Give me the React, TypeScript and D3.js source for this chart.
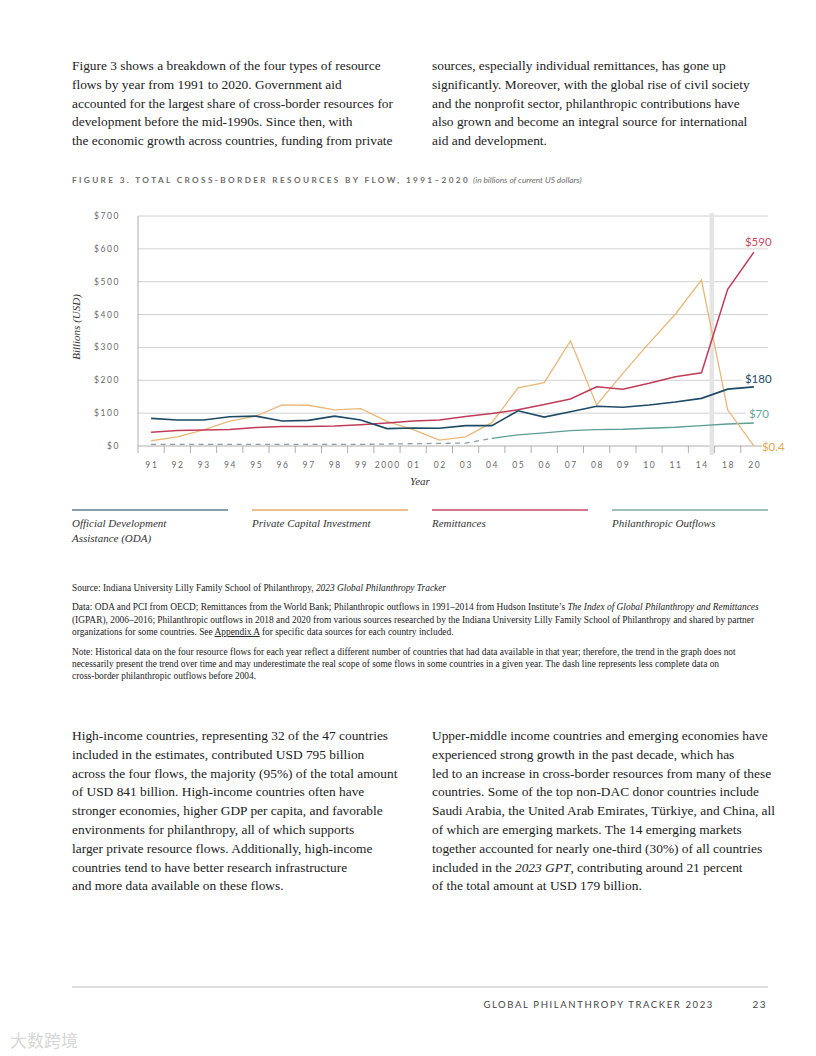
import React from 'react'
import * as d3 from 'd3'

// chart data (billions of current US dollars)
const years = ['91', '92', '93', '94', '95', '96', '97', '98', '99', '2000', '01', '02', '03', '04', '05', '06', '07', '08', '09', '10', '11', '14', '18', '20']
const oda = [84, 79, 79, 89, 91, 76, 78, 91, 79, 53, 55, 54, 62, 62, 107, 88, 104, 121, 118, 125, 134, 145, 173, 180]
const privateCapital = [16, 28, 49, 76, 91, 125, 124, 110, 114, 75, 50, 18, 28, 71, 177, 193, 320, 125, 221, 313, 401, 505, 110, 0.4]
const remittances = [42, 47, 49, 50, 56, 59, 59, 61, 65, 70, 76, 79, 90, 99, 110, 126, 143, 180, 173, 191, 211, 223, 477, 590]
const philanthropic = [5, 5, 5, 5, 5, 5, 5, 5, 5, 6, 7, 8, 9, 23, 34, 40, 47, 50, 51, 54, 57, 62, 67, 70]
const dashedUntil = '04'
const yTicks = [0, 100, 200, 300, 400, 500, 600, 700]

const legendItems = [
  { lines: ['Official Development', 'Assistance (ODA)'], color: '#5b7f93' },
  { lines: ['Private Capital Investment'], color: '#e3ad5e' },
  { lines: ['Remittances'], color: '#c64a6a' },
  { lines: ['Philanthropic Outflows'], color: '#80aaa3' },
]

const topLeft = [
  'Figure 3 shows a breakdown of the four types of resource',
  'flows by year from 1991 to 2020. Government aid',
  'accounted for the largest share of cross-border resources for',
  'development before the mid-1990s. Since then, with',
  'the economic growth across countries, funding from private',
]
const topRight = [
  'sources, especially individual remittances, has gone up',
  'significantly. Moreover, with the global rise of civil society',
  'and the nonprofit sector, philanthropic contributions have',
  'also grown and become an integral source for international',
  'aid and development.',
]
const bottomLeft = [
  'High-income countries, representing 32 of the 47 countries',
  'included in the estimates, contributed USD 795 billion',
  'across the four flows, the majority (95%) of the total amount',
  'of USD 841 billion. High-income countries often have',
  'stronger economies, higher GDP per capita, and favorable',
  'environments for philanthropy, all of which supports',
  'larger private resource flows. Additionally, high-income',
  'countries tend to have better research infrastructure',
  'and more data available on these flows.',
]
const bottomRight: string[][] = [
  ['Upper-middle income countries and emerging economies have'],
  ['experienced strong growth in the past decade, which has'],
  ['led to an increase in cross-border resources from many of these'],
  ['countries. Some of the top non-DAC donor countries include'],
  ['Saudi Arabia, the United Arab Emirates, Türkiye, and China, all'],
  ['of which are emerging markets. The 14 emerging markets'],
  ['together accounted for nearly one-third (30%) of all countries'],
  ['included in the ', '2023 GPT', ', contributing around 21 percent'],
  ['of the total amount at USD 179 billion.'],
]

const serif = '"Liberation Serif", "Times New Roman", serif'
const sans = 'Lato, "Liberation Sans", Arial, sans-serif'

const COLORS = {
  oda: '#1e4a66',
  pci: '#e8b879',
  remit: '#c23c5a',
  phil: '#5e9f94',
  dash: '#8f9ca3',
  grid: '#c4c4c4',
  tick: '#6b6b6b',
}

function Chart() {
  const x = d3.scaleBand<string>().domain(years).range([138, 767]).padding(0)
  const y = d3.scaleLinear().domain([0, 700]).range([446, 216])
  const cx = (i: number) => (x(years[i]) as number) + x.bandwidth() / 2

  const line = d3
    .line<number>()
    .x((_, i) => cx(i))
    .y((d) => y(d))

  const cut = years.indexOf(dashedUntil)
  const philDash = d3
    .line<number>()
    .x((_, i) => cx(i))
    .y((d) => y(d))(philanthropic.slice(0, cut + 1))
  const philSolid = d3
    .line<number>()
    .x((_, i) => cx(i + cut))
    .y((d) => y(d))(philanthropic.slice(cut))

  const last = years.length - 1
  const xEnd = cx(last)
  const gridEnd = 768
  const bandX = (x(years[last - 1]) as number) - 5

  const endLabels = [
    { text: '$590', v: remittances[last], dx: -9, dy: -10, color: '#c64a62', mask: true },
    { text: '$180', v: oda[last], dx: -9, dy: -8, color: '#1e4a66', mask: true },
    { text: '$70', v: philanthropic[last], dx: -5, dy: -9, color: '#6aa79c', mask: true },
    { text: '$0.4', v: privateCapital[last], dx: 8, dy: 1, color: '#e3a94f', mask: false },
  ]

  return (
    <g>
      {/* grid */}
      {yTicks.map((t) => (
        <line
          key={t}
          x1={138}
          x2={t === 0 ? 762 : gridEnd}
          y1={y(t)}
          y2={y(t)}
          stroke={t === 0 ? '#9a9a9a' : COLORS.grid}
          strokeWidth={0.8}
        />
      ))}
      {/* masks behind end labels */}
      {endLabels
        .filter((l) => l.mask)
        .map((l) => (
          <rect key={l.text} x={xEnd + l.dx - 3} y={y(l.v) + l.dy - 8} width={40} height={14} fill="#fff" />
        ))}
      {/* y axis */}
      <line x1={138} x2={138} y1={216} y2={453} stroke="#9a9a9a" strokeWidth={0.8} />
      {yTicks.map((t) => (
        <text
          key={t}
          x={120}
          y={y(t)}
          dy="0.35em"
          textAnchor="end"
          fontFamily={sans}
          fontSize={8.5}
          letterSpacing={1.6}
          fill={COLORS.tick}
        >
          {`$${t}`}
        </text>
      ))}
      <text
        transform="translate(80,327) rotate(-90)"
        textAnchor="middle"
        fontFamily={serif}
        fontStyle="italic"
        fontSize={11}
        fill="#333"
      >
        Billions (USD)
      </text>
      {/* x axis */}
      {years.slice(1).map((yr) => (
        <line key={yr} x1={x(yr) as number} x2={x(yr) as number} y1={446} y2={453} stroke="#9a9a9a" strokeWidth={0.8} />
      ))}
      {years.map((yr, i) => (
        <text
          key={yr}
          x={cx(i) + 0.8}
          y={468}
          textAnchor="middle"
          fontFamily={sans}
          fontSize={8.5}
          letterSpacing={1.6}
          fill={COLORS.tick}
        >
          {yr}
        </text>
      ))}
      <text x={420} y={485} textAnchor="middle" fontFamily={serif} fontStyle="italic" fontSize={11} fill="#333">
        Year
      </text>
      {/* break between 2014 and 2018 */}
      <rect x={bandX} y={213} width={4.5} height={242} fill="#e4e4e4" />
      {/* series */}
      <path d={philDash ?? ''} fill="none" stroke={COLORS.dash} strokeWidth={1.3} strokeDasharray="5,4.5" />
      <path d={philSolid ?? ''} fill="none" stroke={COLORS.phil} strokeWidth={1.3} />
      <path d={line(privateCapital) ?? ''} fill="none" stroke={COLORS.pci} strokeWidth={1.3} />
      <path d={line(remittances) ?? ''} fill="none" stroke={COLORS.remit} strokeWidth={1.5} />
      <path d={line(oda) ?? ''} fill="none" stroke={COLORS.oda} strokeWidth={1.6} />
      {endLabels.map((l) => (
        <text
          key={l.text}
          x={xEnd + l.dx}
          y={y(l.v) + l.dy}
          dy="0.35em"
          fontFamily={sans}
          fontSize={11.5}
          fill={l.color}
        >
          {l.text}
        </text>
      ))}
    </g>
  )
}

function Paragraph({ lines, x, y0, step }: { lines: string[][]; x: number; y0: number; step: number }) {
  return (
    <g>
      {lines.map((segs, i) => (
        <text key={i} x={x} y={y0 + i * step} fontFamily={serif} fontSize={13.4} fill="#222">
          {segs.map((s, j) => (
            <tspan key={j} fontStyle={j % 2 === 1 ? 'italic' : 'normal'}>
              {s}
            </tspan>
          ))}
        </text>
      ))}
    </g>
  )
}

export default function App() {
  const fn = { fontFamily: serif, fontSize: 9.4, fill: '#222' }
  return (
    <div style={{ position: 'absolute', left: 0, top: 0 }}>
      <svg width={816} height={1056} viewBox="0 0 816 1056" style={{ display: 'block', background: '#fff' }}>
        <Paragraph lines={topLeft.map((l) => [l])} x={72} y0={70} step={18.8} />
        <Paragraph lines={topRight.map((l) => [l])} x={432} y0={70} step={18.8} />

        <text x={72} y={183} fontFamily={sans} fontSize={8.2} fontWeight={700} letterSpacing={2.38} fill="#6e6e6e">
          FIGURE 3. TOTAL CROSS-BORDER RESOURCES BY FLOW, 1991–2020
          <tspan fontWeight={400} fontStyle="italic" letterSpacing={0} fontSize={8.3} dx={3}>
            (in billions of current US dollars)
          </tspan>
        </text>

        <Chart />

        {legendItems.map((item, i) => {
          const lx = 72 + i * 180
          return (
            <g key={i}>
              <line x1={lx} x2={lx + 156} y1={510} y2={510} stroke={item.color} strokeWidth={1.4} />
              {item.lines.map((t, j) => (
                <text key={j} x={lx} y={527 + j * 15} fontFamily={serif} fontStyle="italic" fontSize={11} fill="#333">
                  {t}
                </text>
              ))}
            </g>
          )
        })}

        <text x={72} y={591} {...fn}>
          Source: Indiana University Lilly Family School of Philanthropy,{' '}
          <tspan fontStyle="italic">2023 Global Philanthropy Tracker</tspan>
        </text>
        <text x={72} y={610} {...fn}>
          Data: ODA and PCI from OECD; Remittances from the World Bank; Philanthropic outflows in 1991–2014 from Hudson Institute’s{' '}
          <tspan fontStyle="italic">The Index of Global Philanthropy and Remittances</tspan>
        </text>
        <text x={72} y={623} {...fn}>
          (IGPAR), 2006–2016; Philanthropic outflows in 2018 and 2020 from various sources researched by the Indiana University Lilly Family School of Philanthropy and shared by partner
        </text>
        <text x={72} y={635} {...fn}>
          organizations for some countries. See <tspan textDecoration="underline">Appendix A</tspan> for specific data sources for each country included.
        </text>
        <text x={72} y={655} {...fn}>
          Note: Historical data on the four resource flows for each year reflect a different number of countries that had data available in that year; therefore, the trend in the graph does not
        </text>
        <text x={72} y={667} {...fn}>
          necessarily present the trend over time and may underestimate the real scope of some flows in some countries in a given year. The dash line represents less complete data on
        </text>
        <text x={72} y={679} {...fn}>
          cross-border philanthropic outflows before 2004.
        </text>

        <Paragraph lines={bottomLeft.map((l) => [l])} x={72} y0={740} step={18.8} />
        <Paragraph lines={bottomRight} x={432} y0={740} step={18.8} />

        <line x1={72} x2={768} y1={987} y2={987} stroke="#bdbdbd" strokeWidth={1} />
        <text x={714} y={1008} textAnchor="end" fontFamily={sans} fontSize={9.5} letterSpacing={1.62} fill="#444">
          GLOBAL PHILANTHROPY TRACKER 2023
        </text>
        <text x={767} y={1008} textAnchor="end" fontFamily={sans} fontSize={10} letterSpacing={1.4} fill="#444">
          23
        </text>
        <text x={10} y={1047} fontFamily='"Noto Sans CJK SC", sans-serif' fontSize={17} fill="#d6d6d6">
          大数跨境
        </text>
      </svg>
    </div>
  )
}
